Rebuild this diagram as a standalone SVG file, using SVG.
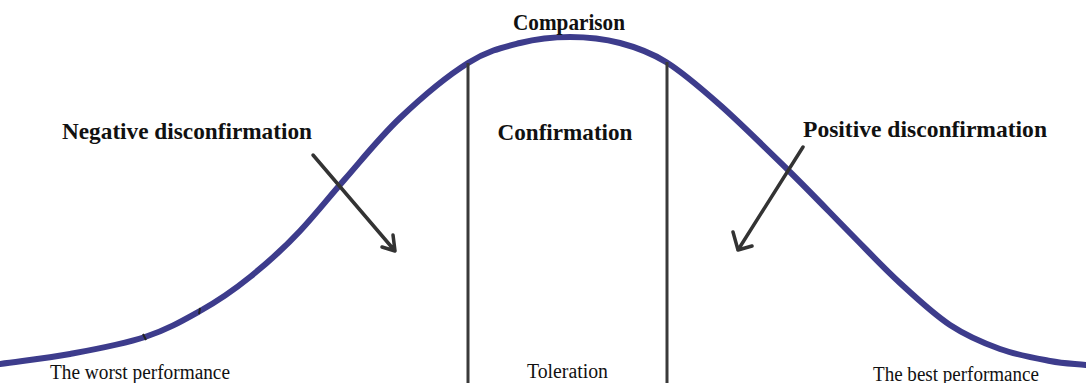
<svg xmlns="http://www.w3.org/2000/svg" width="1086" height="383" viewBox="0 0 1086 383">
<style>
.curve{fill:none;stroke:#3d3c8c;stroke-width:6;stroke-linecap:round}
.vline{stroke:#3a3a3a;stroke-width:3}
.arrow{fill:none;stroke:#333;stroke-width:3.5;stroke-linecap:round;stroke-linejoin:round}
.tick{stroke:#222;stroke-width:2}
.b{font-family:"Liberation Serif","Times New Roman",serif;font-weight:bold;fill:#111;font-size:23px}
.r{font-family:"Liberation Serif","Times New Roman",serif;fill:#111;font-size:20px}
</style>
<rect width="1086" height="383" fill="#fff"/>
<g id="curve">
<path class="curve" d="M0,364 C23.3,360.7 45.8,358.5 70,354 C94.2,349.5 123.3,344.2 145,337 C166.7,329.8 182.5,320.8 200,311 C217.5,301.2 233.3,290.5 250,277 C266.7,263.5 284.2,248 300,231 C315.8,214 328.3,198 345,179 C361.7,160 379.5,137.5 400,118 C420.5,98.5 448,75.5 468,63 C488,50.5 503,47.3 520,43 C537,38.7 553.3,37 570,37 C586.7,37 604,38.8 620,43 C636,47.2 649.3,51.7 666,62 C682.7,72.3 699.3,86.7 720,105 C740.7,123.3 768.3,150.7 790,172 C811.7,193.3 831.7,214.5 850,233 C868.3,251.5 883.3,267.7 900,283 C916.7,298.3 933.3,314 950,325 C966.7,336 983.3,343 1000,349 C1016.7,355 1035.7,358.3 1050,361 C1064.3,363.7 1074,363.7 1086,365"/>
<line class="tick" x1="143" y1="334" x2="146" y2="340"/>
<line class="tick" x1="200" y1="308" x2="199" y2="314"/>
</g>
<g id="dividers">
<line class="vline" x1="468" y1="63" x2="468" y2="383"/>
<line class="vline" x1="667" y1="62" x2="667" y2="383"/>
</g>
<g id="connectors">
<path class="arrow" d="M313,155 L395,251 M393,235 L395,251 L382,247"/>
<path class="arrow" d="M803,147 L738,250 M733,232 L738,250 L752,246"/>
</g>
<g id="comparison"><text class="b" x="569" y="30" text-anchor="middle" textLength="112" lengthAdjust="spacingAndGlyphs">Comparison</text></g>
<g id="confirmation"><text class="b" x="565" y="140" text-anchor="middle" textLength="135" lengthAdjust="spacingAndGlyphs">Confirmation</text></g>
<g id="negative"><text class="b" x="62" y="139" textLength="250" lengthAdjust="spacingAndGlyphs">Negative disconfirmation</text></g>
<g id="positive"><text class="b" x="803" y="137" textLength="244" lengthAdjust="spacingAndGlyphs">Positive disconfirmation</text></g>
<g id="worst"><text class="r" x="50" y="379" textLength="180" lengthAdjust="spacingAndGlyphs">The worst performance</text></g>
<g id="toleration"><text class="r" x="527" y="378" textLength="81" lengthAdjust="spacingAndGlyphs">Toleration</text></g>
<g id="best"><text class="r" x="873" y="381" textLength="166" lengthAdjust="spacingAndGlyphs">The best performance</text></g>
</svg>
